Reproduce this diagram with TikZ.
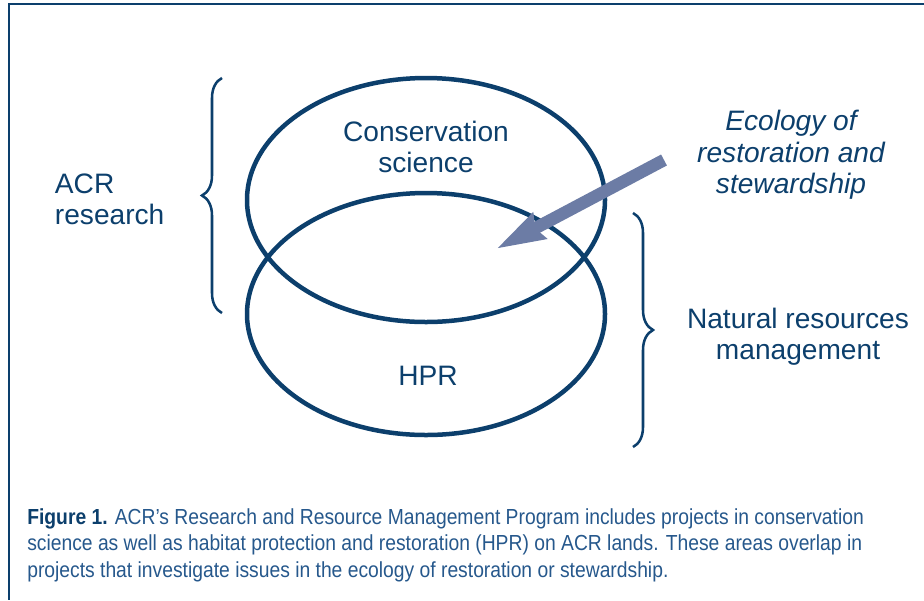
\documentclass[tikz,border=0pt]{standalone}
\usepackage{fontspec}
\setmainfont{Liberation Sans}
\newfontfamily\captionfont[FakeStretch=0.885]{Liberation Sans}
\usepackage{tikz}
\usetikzlibrary{positioning, arrows.meta, calc, decorations.pathreplacing}
\definecolor{acr_darkblue}{RGB}{12,63,108}
\definecolor{acr_midblue}{RGB}{38,88,140}
\definecolor{acr_slate}{RGB}{108,124,165}
\tikzstyle{ring} = [draw=acr_darkblue, line width=3.2pt]
\tikzstyle{brace_line} = [draw=acr_darkblue, line width=1.8pt, decorate, decoration={brace, amplitude=0.5cm}]
\tikzstyle{big_arrow} = [draw=acr_slate, line width=0.31cm, -{Stealth[length=1.2cm, width=0.68cm, inset=0.1cm]}]
\tikzstyle{label_text} = [text=acr_darkblue, align=center, font=\fontsize{20}{22.3}\selectfont]

\begin{document}
\begin{tikzpicture}[x=0.025cm, y=-0.025cm]
        \useasboundingbox (0,0) rectangle (924,600);
        % frame (only top and left edges fall inside the page)
        \draw[acr_darkblue, line width=0.8pt] (924,4) -- (9,4) -- (9,600);

        % the two overlapping areas
        \draw[ring] (426,200) ellipse (179 and 122);
        \draw[ring] (426,314) ellipse (179 and 121);

        \node (cons_label) [label_text] at (426,147) {Conservation\\science};
        \node (hpr_label) [label_text] at (428,376) {HPR};

        % braces
        \draw[brace_line] (222,313) -- coordinate[midway](acr_mid) (222,78);
        \draw[brace_line] (633,213) -- coordinate[midway](nrm_mid) (633,447);
        \node (acr_label) [label_text, align=left, anchor=west] at (50,199) {ACR\\research};
        \node (nrm_label) [label_text] at (798,337) {Natural resources\\management};

        % overlap arrow
        \node (eco_label) [label_text, font=\fontsize{20}{22.3}\selectfont\itshape] at (791,155) {Ecology of\\restoration and\\stewardship};
        \coordinate (arrow_start) at (664,160);
        \coordinate (arrow_tip) at (496,249);
        \draw[big_arrow] (arrow_start) -- (arrow_tip);

        % caption
        \node (fig_caption) [anchor=north west, align=left, inner sep=0pt, text=acr_midblue, font=\captionfont\fontsize{15.5}{18.9}\selectfont] at (27,508)
            {{\color{acr_darkblue}\bfseries Figure 1.} ACR’s Research and Resource Management Program includes projects in conservation\\
             science as well as habitat protection and restoration (HPR) on ACR lands. These areas overlap in\\
             projects that investigate issues in the ecology of restoration or stewardship.};
    \end{tikzpicture}
\end{document}
